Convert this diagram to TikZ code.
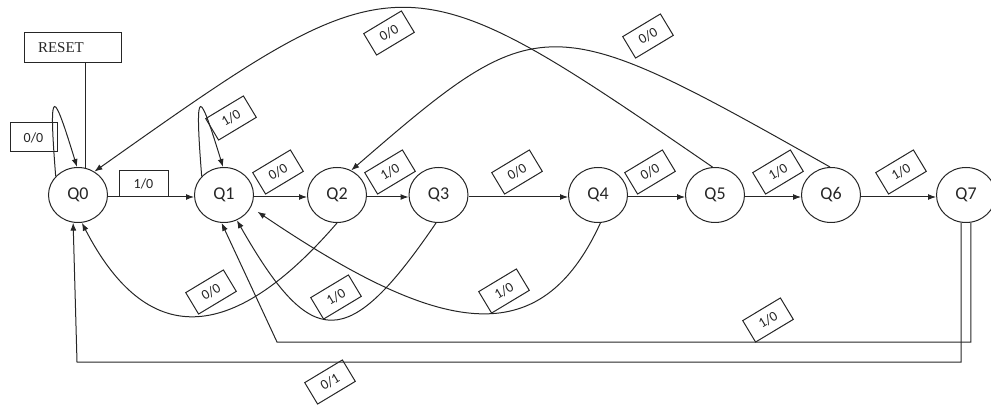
\documentclass[tikz,border=0pt]{standalone}
\usepackage{fontspec}
\setmainfont{Carlito}
\newfontfamily\resetfont{Liberation Serif}
\usetikzlibrary{arrows.meta,shapes.geometric}
\definecolor{ink}{HTML}{262626}
\begin{document}
\begin{tikzpicture}[x=1pt,y=-1pt,color=ink,line width=1pt,
  state/.style={ellipse,draw,minimum width=59pt,minimum height=55pt,inner sep=0pt,
    font=\fontsize{18}{20}\selectfont},
  lbl/.style={draw,rectangle,minimum width=44pt,minimum height=25pt,inner sep=0pt,
    rotate=31,font=\fontsize{14}{16}\selectfont},
  flat/.style={draw,rectangle,inner sep=0pt,font=\fontsize{14}{16}\selectfont},
  arr/.style={-{Latex[length=8pt,width=6pt]}}]
\useasboundingbox (0,0) rectangle (991,406);

% states
\node[state] (Q0) at (78,195) {Q0};
\node[state] (Q1) at (224,195) {Q1};
\node[state] (Q2) at (337,195) {Q2};
\node[state] (Q3) at (438.5,195) {Q3};
\node[state] (Q4) at (598,195) {Q4};
\node[state] (Q5) at (715,195) {Q5};
\node[state] (Q6) at (831,195) {Q6};
\node[state] (Q7) at (966,195) {Q7};

% reset input
\node[draw,rectangle,inner xsep=14pt,inner ysep=0pt,text width=69pt,align=left,
  minimum height=30pt,font=\resetfont\fontsize{15}{17}\selectfont] (reset) at (72.5,48) {RESET};
\draw (Q0.74 |- reset.south) -- (Q0.74);

% forward chain
\foreach \a/\b in {Q0/Q1,Q1/Q2,Q2/Q3,Q3/Q4,Q4/Q5,Q5/Q6,Q6/Q7}
  \draw[arr] ([yshift=-2pt]\a.east) -- ([yshift=-2pt]\b.west);

% self loops
\draw[arr] (Q0.140) .. controls (48,80) and (54,92) .. (Q0.92);
\draw[arr] (Q1.140) .. controls (194,80) and (200,92) .. (Q1.92);

% arcs over the top
\draw[arr] (Q5.95) .. controls (402,-46) and (402,-46) .. (Q0.55);
\draw[arr] (Q6.92) .. controls (547,7) and (540,7) .. (Q2.60);

% arcs underneath
\draw[arr] (Q2.south) .. controls (230,347) and (146,347) .. (Q0.-82);
\draw[arr] (Q3.-95) .. controls (348,352) and (312,352) .. (Q1.-63);
\draw[arr] (Q4.-85) .. controls (540,355) and (440,335) .. ([xshift=8pt,yshift=-2pt]Q1.-30);

% return paths from Q7
\coordinate (c0) at (77,362);
\coordinate (c1) at (277,342);
\draw[arr] (Q7.260) |- (c0) -- (Q0.260);
\draw[arr] (Q7.280) |- (c1) -- (Q1.265);

% transition labels
\node[flat,minimum width=49pt,minimum height=26pt] (l01) at (143.5,184) {1/0};
\node[flat,minimum width=47pt,minimum height=29pt] (l00) at (33.5,137.5) {0/0};
\node[lbl] (l11) at (231,118) {1/0};
\node[lbl] (l12) at (278,172) {0/0};
\node[lbl] (l23) at (390,172) {1/0};
\node[lbl] (l34) at (517,172) {0/0};
\node[lbl] (l45) at (650,172) {0/0};
\node[lbl] (l56) at (778,172) {1/0};
\node[lbl] (l67) at (901,172) {1/0};
\node[lbl] (l50) at (389,33) {0/0};
\node[lbl] (l62) at (648,36) {0/0};
\node[lbl] (l20) at (211,292) {0/0};
\node[lbl] (l31) at (336,297) {1/0};
\node[lbl] (l41) at (504,291) {1/0};
\node[lbl] (l71) at (768,320) {1/0};
\node[lbl] (l70) at (330,382) {0/1};
\end{tikzpicture}
\end{document}
